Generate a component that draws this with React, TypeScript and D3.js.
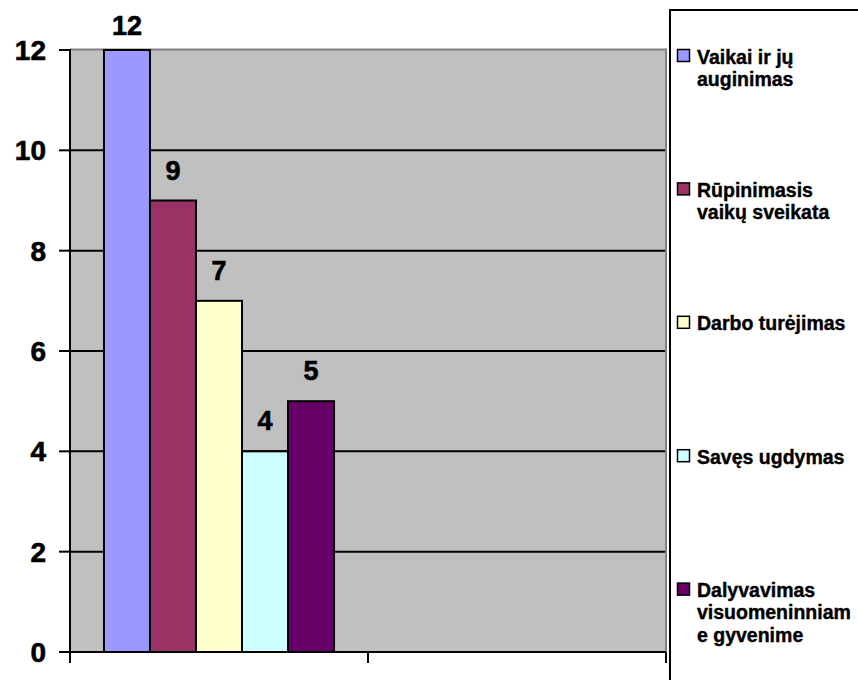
import React from "react";
import * as d3 from "d3";

const seriesNames = [
  "Vaikai ir jų auginimas",
  "Rūpinimasis vaikų sveikata",
  "Darbo turėjimas",
  "Savęs ugdymas",
  "Dalyvavimas visuomeninniam e gyvenime",
];
const seriesValues = [12, 9, 7, 4, 5];
const seriesColors = ["#9999FF", "#993366", "#FFFFCC", "#CCFFFF", "#660066"];
const legendLines = [
  ["Vaikai ir jų", "auginimas"],
  ["Rūpinimasis", "vaikų sveikata"],
  ["Darbo turėjimas"],
  ["Savęs ugdymas"],
  ["Dalyvavimas", "visuomeninniam", "e gyvenime"],
];
const groups = ["g1", "g2"];
const yTicks = [0, 2, 4, 6, 8, 10, 12];

const W = 858;
const H = 680;
const plotL = 70;
const plotR = 666;
const plotT = 50;
const plotB = 652;
const FONT = "'Liberation Sans', Arial, sans-serif";

export default function App() {
  const x0 = d3.scaleBand<string>().domain(groups).range([plotL, plotR]).padding(0);
  const bw0 = x0.bandwidth();
  const gap = bw0 * 0.114;
  const x1 = d3
    .scaleBand<string>()
    .domain(seriesNames)
    .range([(x0("g1") as number) + gap, (x0("g1") as number) + bw0 - gap])
    .padding(0);
  const y = d3.scaleLinear().domain([0, 12]).range([plotB, plotT]);

  const catTicks = [plotL, ...groups.map((g) => (x0(g) as number) + bw0)];

  return (
    <svg
      width={W}
      height={H}
      style={{ position: "absolute", left: 0, top: 0, background: "#fff" }}
      fontFamily={FONT}
    >
      <rect x={0} y={0} width={W} height={H} fill="#fff" />
      {/* plot area */}
      <rect x={plotL} y={plotT} width={plotR - plotL} height={plotB - plotT} fill="#C0C0C0" />
      {/* gridlines */}
      {yTicks
        .filter((t) => t > 0 && t < 12)
        .map((t) => (
          <line key={"g" + t} x1={plotL} x2={plotR} y1={y(t)} y2={y(t)} stroke="#000" strokeWidth={2} />
        ))}
      {/* plot border top/right */}
      <line x1={plotL} x2={plotR} y1={plotT - 0.5} y2={plotT - 0.5} stroke="#808080" strokeWidth={2} />
      <line x1={plotR} x2={plotR} y1={plotT - 1.5} y2={plotB} stroke="#808080" strokeWidth={2} />
      {/* bars */}
      {seriesNames.map((s, i) => {
        const bx = x1(s) as number;
        const by = y(seriesValues[i]);
        return (
          <rect
            key={s}
            x={bx}
            y={by}
            width={x1.bandwidth()}
            height={plotB - by}
            fill={seriesColors[i]}
            stroke="#000"
            strokeWidth={2}
          />
        );
      })}
      {/* bar labels */}
      {seriesNames.map((s, i) => {
        const bx = (x1(s) as number) + x1.bandwidth() / 2;
        const by = y(seriesValues[i]);
        return (
          <text
            key={"l" + s}
            x={bx}
            y={Math.max(by - 21, 35)}
            textAnchor="middle"
            fontSize={27}
            fontWeight="bold"
            fill="#000"
            stroke="#000"
            strokeWidth={0.6}
          >
            {seriesValues[i]}
          </text>
        );
      })}
      {/* y axis */}
      <line x1={plotL} x2={plotL} y1={plotT - 1} y2={plotB + 11} stroke="#000" strokeWidth={2} />
      {yTicks.map((t) => (
        <g key={"t" + t}>
          <line x1={plotL - 11} x2={plotL} y1={y(t)} y2={y(t)} stroke="#000" strokeWidth={2} />
          <text
            x={46}
            y={y(t)}
            dy="0.36em"
            textAnchor="end"
            fontSize={28}
            fontWeight="bold"
            fill="#000"
            stroke="#000"
            strokeWidth={0.6}
          >
            {t}
          </text>
        </g>
      ))}
      {/* x axis */}
      <line x1={plotL} x2={plotR} y1={plotB} y2={plotB} stroke="#000" strokeWidth={2} />
      {catTicks.map((cx, i) => (
        <line key={"c" + i} x1={cx} x2={cx} y1={plotB} y2={plotB + 11} stroke="#000" strokeWidth={2} />
      ))}
      {/* legend */}
      <rect x={670} y={10} width={W} height={H} fill="#fff" stroke="#000" strokeWidth={2} />
      {legendLines.map((lines, i) => {
        const base = 63.5 + i * 133.4;
        return (
          <g key={"lg" + i}>
            <rect
              x={677.5}
              y={base - 14}
              width={12}
              height={12}
              fill={seriesColors[i]}
              stroke="#000"
              strokeWidth={1.5}
            />
            {lines.map((ln, j) => (
              <text
                key={j}
                x={697}
                y={base + j * 22.3}
                fontSize={19.5}
                fontWeight="bold"
                fill="#000"
                stroke="#000"
                strokeWidth={0.4}
              >
                {ln}
              </text>
            ))}
          </g>
        );
      })}
    </svg>
  );
}
